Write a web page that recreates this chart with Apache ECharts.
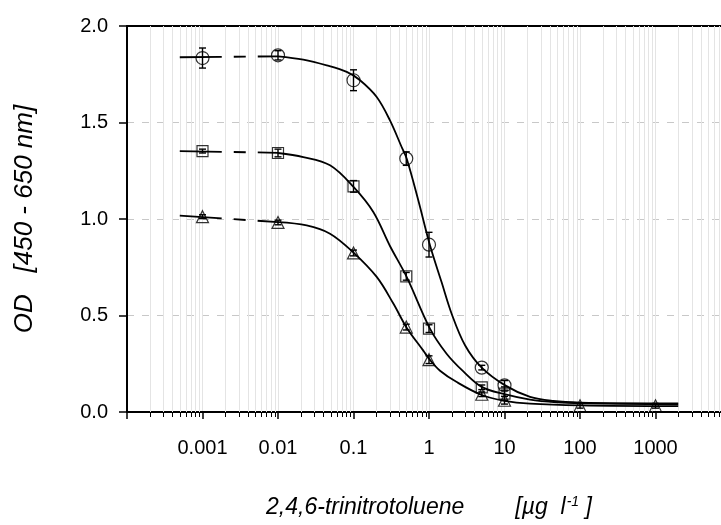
<!DOCTYPE html>
<html>
<head>
<meta charset="utf-8">
<script src="https://cdn.jsdelivr.net/npm/echarts@6/dist/echarts.min.js"></script>
<style>
  html, body { margin: 0; padding: 0; background: #fff; }
  #chart { width: 721px; height: 525px; }
</style>
</head>
<body>
<div id="chart"></div>
<script>
// ---- data ----
const concX = [0.001, 0.01, 0.1, 0.5, 1, 5, 10];
const circleY = [1.834, 1.848, 1.719, 1.313, 0.867, 0.230, 0.138];
const circleErr = [0.052, 0.024, 0.054, 0.035, 0.064, 0.012, 0.025];
const squareY = [1.352, 1.342, 1.169, 0.703, 0.432, 0.128, 0.095];
const squareErr = [0.010, 0.020, 0.030, 0.020, 0.020, 0.012, 0.035];
const triX = [0.001, 0.01, 0.1, 0.5, 1, 5, 10, 100, 1000];
const triY = [1.012, 0.982, 0.824, 0.440, 0.271, 0.092, 0.061, 0.032, 0.032];
const triErr = [0.010, 0.012, 0.015, 0.015, 0.020, 0.012, 0.020, 0.012, 0.012];

// fitted curves, points
const circleCurveX = [0.01, 0.0216, 0.0442, 0.0813, 0.122, 0.203, 0.304, 0.434, 0.506, 0.721, 1.03, 1.47, 2.0, 3.0, 4.99, 10.2, 21.8, 44.3, 100, 2000];
const circleCurveY = [1.843, 1.826, 1.796, 1.762, 1.719, 1.632, 1.511, 1.373, 1.313, 1.097, 0.864, 0.672, 0.508, 0.346, 0.230, 0.138, 0.078, 0.057, 0.049, 0.045];
const squareCurveX = [0.01, 0.0216, 0.0489, 0.1, 0.183, 0.304, 0.506, 1.03, 1.71, 2.85, 4.99, 10, 21.8, 49, 100, 2000];
const squareCurveY = [1.342, 1.321, 1.278, 1.166, 1.036, 0.860, 0.700, 0.432, 0.302, 0.210, 0.130, 0.092, 0.064, 0.050, 0.045, 0.040];
const triCurveX = [0.01, 0.024, 0.0489, 0.1, 0.203, 0.337, 0.506, 0.84, 1.03, 1.40, 2.33, 4.99, 10, 21.8, 100, 2000];
const triCurveY = [0.984, 0.967, 0.924, 0.826, 0.700, 0.562, 0.437, 0.318, 0.270, 0.214, 0.155, 0.088, 0.058, 0.043, 0.034, 0.030];

// broken (dashed) connectors from the zero-standard point
const connX = [0.0005, 0.01];
const circleConnY = [1.838, 1.843];
const squareConnY = [1.352, 1.343];
const triConnY = [1.017, 0.984];

// axes
const xTickValues = [0.001, 0.01, 0.1, 1, 10, 100, 1000];
const xTickLabels = ['0.001', '0.01', '0.1', '1', '10', '100', '1000'];
const yTickValues = [0, 0.5, 1.0, 1.5, 2.0];
const yTickLabels = ['0.0', '0.5', '1.0', '1.5', '2.0'];
const xDecades = [1e-4, 1e-3, 1e-2, 1e-1, 1, 10, 100, 1000];
const minorSteps = [2, 3, 4, 5, 6, 7, 8, 9];

const xMin = 1e-4, xMax = 1e4, yMin = 0, yMax = 2;
const FONT = 'Liberation Sans, Arial, sans-serif';

const zip = (xs, ys) => xs.map((x, i) => [x, ys[i]]);
const zip3 = (xs, ys, es) => xs.map((x, i) => [x, ys[i], es[i]]);
const minorVals = [];
xDecades.forEach(d => minorSteps.forEach(m => minorVals.push([d * m, 0])));

function errRender(params, api) {
  const x = api.value(0), y = api.value(1), e = api.value(2);
  const p1 = api.coord([x, y + e]);
  const p2 = api.coord([x, y - e]);
  const w = 3.5;
  const st = { stroke: '#000', lineWidth: 1.4 };
  return {
    type: 'group',
    children: [
      { type: 'line', shape: { x1: p1[0], y1: p1[1], x2: p2[0], y2: p2[1] }, style: st },
      { type: 'line', shape: { x1: p1[0] - w, y1: p1[1], x2: p1[0] + w, y2: p1[1] }, style: st },
      { type: 'line', shape: { x1: p2[0] - w, y1: p2[1], x2: p2[0] + w, y2: p2[1] }, style: st }
    ]
  };
}

function minorRender(params, api) {
  const v = api.value(0);
  const top = api.coord([v, yMax]);
  const bot = api.coord([v, yMin]);
  const x = Math.round(bot[0]) + 0.5;
  return {
    type: 'group',
    children: [
      { type: 'line', shape: { x1: x, y1: top[1], x2: x, y2: bot[1] }, style: { stroke: '#e4e4e4', lineWidth: 1 } },
      { type: 'line', shape: { x1: x, y1: bot[1], x2: x, y2: bot[1] + 5 }, style: { stroke: '#000', lineWidth: 1 } }
    ]
  };
}

const dashPattern = [42, 12, 12, 12, 300];
const curveStyle = { color: '#000', width: 1.8 };
const markerStyle = { color: 'rgba(0,0,0,0)', borderColor: '#000', borderWidth: 1.2 };

const chart = echarts.init(document.getElementById('chart'), null, { renderer: 'canvas' });
chart.setOption({
  animation: false,
  backgroundColor: '#fff',
  grid: { left: 127, width: 604, top: 26, bottom: 113, containLabel: false, outerBoundsMode: 'none' },
  xAxis: [
    {
      type: 'log', logBase: 10, min: xMin, max: xMax,
      axisLine: { show: true, onZero: false, lineStyle: { color: '#000', width: 2 } },
      axisTick: { show: true, inside: false, length: 7, lineStyle: { color: '#000', width: 1.5 } },
      axisLabel: {
        margin: 26, fontSize: 20, color: '#000', fontFamily: FONT,
        formatter: function (v) {
          const i = xTickValues.findIndex(t => Math.abs(Math.log10(t) - Math.log10(v)) < 1e-6);
          return i >= 0 ? xTickLabels[i] : '';
        }
      },
      splitLine: { show: true, lineStyle: { color: '#e4e4e4', width: 1 } },
      name: '{a|2,4,6-trinitrotoluene        [µg  l}{s|-1}{a| ]}',
      nameLocation: 'middle',
      nameGap: 83,
      nameTextStyle: {
        rich: {
          a: { fontSize: 23, fontStyle: 'italic', fontFamily: FONT, color: '#000', lineHeight: 26 },
          s: { fontSize: 14, fontStyle: 'italic', fontFamily: FONT, color: '#000', lineHeight: 14, verticalAlign: 'top', padding: [0, 0, 0, 1] }
        }
      }
    },
    {
      type: 'log', logBase: 10, min: xMin, max: xMax, position: 'top',
      axisLine: { show: true, onZero: false, lineStyle: { color: '#000', width: 2 } },
      axisTick: { show: false }, axisLabel: { show: false }, splitLine: { show: false }
    }
  ],
  yAxis: {
    type: 'value', min: yMin, max: yMax, interval: 0.5,
    axisLine: { show: true, onZero: false, lineStyle: { color: '#000', width: 2 } },
    axisTick: { show: true, inside: false, length: 8, lineStyle: { color: '#000', width: 1.5 } },
    axisLabel: {
      margin: 19, fontSize: 20, color: '#000', fontFamily: FONT,
      formatter: function (v) {
        const i = yTickValues.findIndex(t => Math.abs(t - v) < 1e-9);
        return i >= 0 ? yTickLabels[i] : '';
      }
    },
    splitLine: { show: true, showMinLine: false, showMaxLine: false, lineStyle: { color: '#c8c8c8', width: 1, type: [7, 8] } },
    name: 'OD   [450 - 650 nm]',
    nameLocation: 'middle',
    nameRotate: 90,
    nameGap: 89,
    nameTextStyle: { fontSize: 26, fontStyle: 'italic', fontFamily: FONT, color: '#000' }
  },
  series: [
    { type: 'custom', xAxisIndex: 0, yAxisIndex: 0, silent: true, clip: false, z: 1, data: minorVals, renderItem: minorRender },

    { type: 'line', data: zip(connX, circleConnY), showSymbol: false, symbol: 'none', lineStyle: { color: '#000', width: 1.8, type: dashPattern }, z: 3 },
    { type: 'line', data: zip(connX, squareConnY), showSymbol: false, symbol: 'none', lineStyle: { color: '#000', width: 1.8, type: dashPattern }, z: 3 },
    { type: 'line', data: zip(connX, triConnY), showSymbol: false, symbol: 'none', lineStyle: { color: '#000', width: 1.8, type: dashPattern }, z: 3 },

    { type: 'line', data: zip(circleCurveX, circleCurveY), symbol: 'none', smooth: 0.35, lineStyle: curveStyle, z: 3 },
    { type: 'line', data: zip(squareCurveX, squareCurveY), symbol: 'none', smooth: 0.35, lineStyle: curveStyle, z: 3 },
    { type: 'line', data: zip(triCurveX, triCurveY), symbol: 'none', smooth: 0.35, lineStyle: curveStyle, z: 3 },

    { type: 'custom', silent: true, clip: false, z: 4, data: zip3(concX, circleY, circleErr), renderItem: errRender },
    { type: 'custom', silent: true, clip: false, z: 4, data: zip3(concX, squareY, squareErr), renderItem: errRender },
    { type: 'custom', silent: true, clip: false, z: 4, data: zip3(triX, triY, triErr), renderItem: errRender },

    { type: 'scatter', data: zip(concX, circleY), symbol: 'circle', symbolSize: 13, itemStyle: markerStyle, z: 5 },
    { type: 'scatter', data: zip(concX, squareY), symbol: 'rect', symbolSize: 11, itemStyle: markerStyle, z: 5 },
    { type: 'scatter', data: zip(triX, triY), symbol: 'triangle', symbolSize: 12, itemStyle: markerStyle, z: 5 }
  ]
});
</script>
</body>
</html>
